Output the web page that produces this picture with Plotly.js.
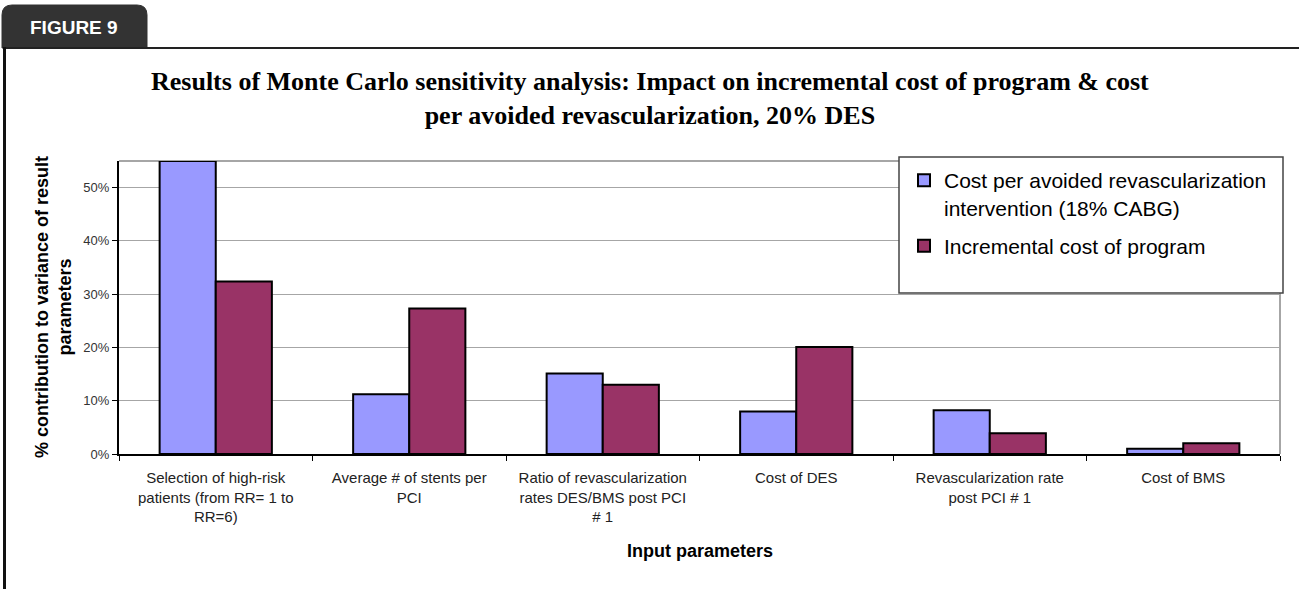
<!DOCTYPE html>
<html><head><meta charset="utf-8">
<script src="https://cdn.plot.ly/plotly-3.0.1.min.js"></script>
<style>html,body{margin:0;padding:0;background:#fff;}#chart{width:1299px;height:589px;}</style>
</head><body><div id="chart"></div>
<script>
const categories = [
  "Selection of high-risk<br>patients (from RR= 1 to<br>RR=6)",
  "Average # of stents per<br>PCI",
  "Ratio of revascularization<br>rates DES/BMS post PCI<br># 1",
  "Cost of DES",
  "Revascularization rate<br>post PCI # 1",
  "Cost of BMS"
];
const costPerAvoided = [0.55, 0.112, 0.151, 0.080, 0.082, 0.010];
const incrementalCost = [0.324, 0.273, 0.130, 0.201, 0.039, 0.020];
const seriesNames = ["Cost per avoided revascularization<br>intervention (18% CABG)", "Incremental cost of program"];
const yTickVals = [0, 0.1, 0.2, 0.3, 0.4, 0.5];
const yTickText = ["0%", "10%", "20%", "30%", "40%", "50%"];

// pixel -> paper helpers for decoration placement
const L = 119, R = 1280, T = 161, B = 454;
const px = x => (x - L) / (R - L);
const py = y => (B - y) / (B - T);

const traces = [
  {type:'bar', name:seriesNames[0], x:categories, y:costPerAvoided, legendgroup:'g1',
   marker:{color:'#9999FF', line:{color:'#000', width:2}}},
  {type:'bar', name:seriesNames[1], x:categories, y:incrementalCost, legendgroup:'g2',
   marker:{color:'#993366', line:{color:'#000', width:2}}}
];

const r = 10;
const tabPath = `M ${px(2)} ${py(48)} L ${px(2)} ${py(5+r)} Q ${px(2)} ${py(5)} ${px(2+r)} ${py(5)} L ${px(147-r)} ${py(5)} Q ${px(147)} ${py(5)} ${px(147)} ${py(5+r)} L ${px(147)} ${py(48)} Z`;

const layout = {
  width:1299, height:589,
  paper_bgcolor:'#fff', plot_bgcolor:'#fff',
  margin:{l:L, r:1299-R, t:T, b:589-B},
  showlegend:true,
  barmode:'group', bargap:0.42, bargroupgap:0,
  font:{family:'Arial, Liberation Sans, sans-serif', color:'#000'},
  xaxis:{type:'category', tickson:'boundaries', ticks:'outside', ticklen:5, tickcolor:'#000',
    showline:true, linecolor:'#000', linewidth:2, showgrid:false, ticklabelstandoff:9,
    tickfont:{size:15, color:'#222'}, automargin:false},
  yaxis:{range:[0,0.55], tickvals:yTickVals, ticktext:yTickText, ticks:'outside', ticklen:5, tickcolor:'#000',
    showline:true, linecolor:'#000', linewidth:2, showgrid:true, gridcolor:'#a6a6a6', gridwidth:1,
    zeroline:false, tickfont:{size:13, color:'#333'}, automargin:false},
  legend:{x:px(904), xanchor:'left', y:py(160), yanchor:'top', bgcolor:'rgba(0,0,0,0)', borderwidth:0,
    font:{size:21, color:'#000'}, tracegroupgap:8, itemsizing:'constant', valign:'top'},
  shapes:[
    {type:'line', xref:'paper', yref:'paper', x0:0, x1:1, y0:1, y1:1, line:{color:'#a6a6a6', width:2}, layer:'below'},
    {type:'line', xref:'paper', yref:'paper', x0:1, x1:1, y0:0, y1:1, line:{color:'#a6a6a6', width:2}, layer:'below'},
    {type:'rect', xref:'paper', yref:'paper', x0:px(899), x1:px(1283), y0:py(157), y1:py(293),
     fillcolor:'#fff', line:{color:'#444', width:1.5}, layer:'above'},
    {type:'path', xref:'paper', yref:'paper', path:tabPath, fillcolor:'#333333', line:{color:'#333333', width:1}, layer:'above'},
    {type:'line', xref:'paper', yref:'paper', x0:px(3), x1:px(1299), y0:py(48), y1:py(48), line:{color:'#222', width:2}, layer:'above'},
    {type:'line', xref:'paper', yref:'paper', x0:px(4.5), x1:px(4.5), y0:py(47), y1:py(589), line:{color:'#111', width:3}, layer:'above'}
  ],
  annotations:[
    {text:'Results of Monte Carlo sensitivity analysis: Impact on incremental cost of program &amp; cost<br>per avoided revascularization, 20% DES',
     xref:'paper', yref:'paper', x:px(650), y:py(99), xanchor:'center', yanchor:'middle', showarrow:false,
     font:{family:'"Liberation Serif", "Times New Roman", serif', size:26, color:'#000', weight:'bold'}},
    {text:'FIGURE 9', xref:'paper', yref:'paper', x:px(74), y:py(28), xanchor:'center', yanchor:'middle', showarrow:false,
     font:{size:19, color:'#fff', family:'Arial, Liberation Sans, sans-serif', weight:'bold'}},
    {text:'% contribution to variance of result<br>parameters', xref:'paper', yref:'paper', x:px(53), y:py(307),
     xanchor:'center', yanchor:'middle', textangle:-90, showarrow:false,
     font:{size:18, color:'#000', weight:'bold'}},
    {text:'Input parameters', xref:'paper', yref:'paper', x:px(700), y:py(551), xanchor:'center', yanchor:'middle', showarrow:false,
     font:{size:18, color:'#000', weight:'bold'}}
  ]
};
Plotly.newPlot('chart', traces, layout, {staticPlot:true, displayModeBar:false});
</script></body></html>
